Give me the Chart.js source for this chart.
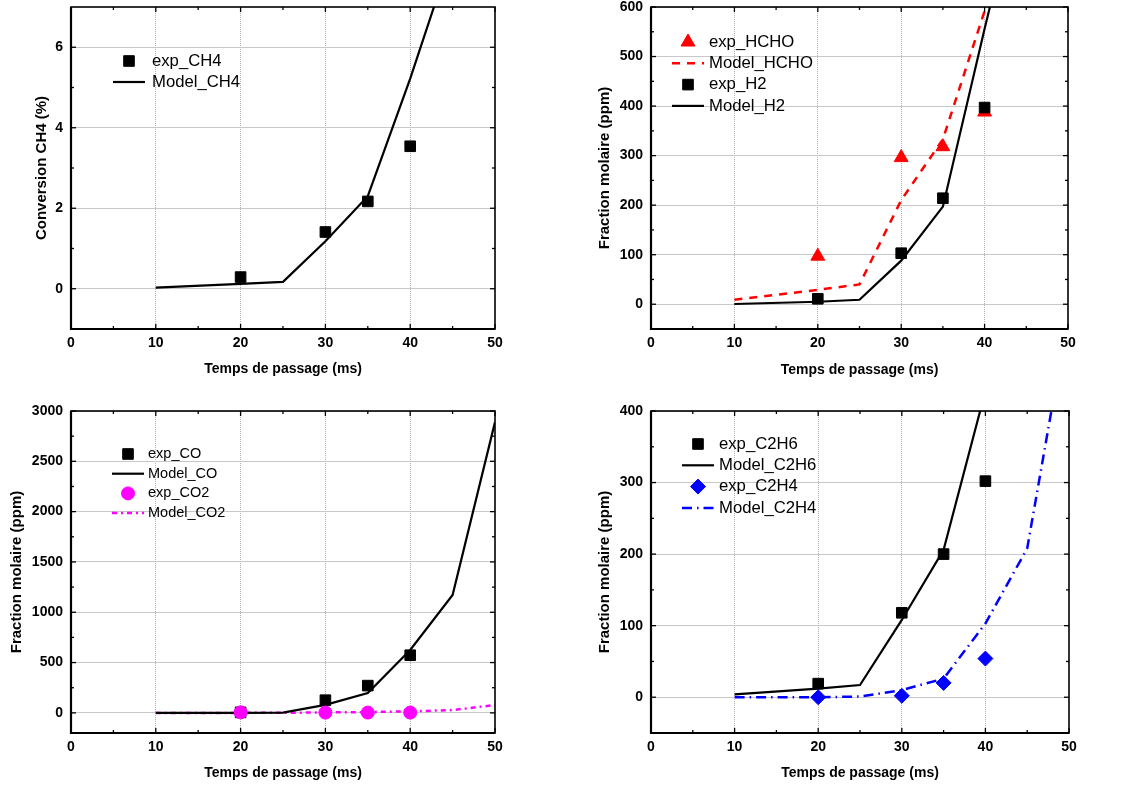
<!DOCTYPE html>
<html>
<head>
<meta charset="utf-8">
<script src="https://cdn.jsdelivr.net/npm/chart.js@4.4.0/dist/chart.umd.min.js"></script>
<style>
  html, body { margin: 0; padding: 0; background: #fff; overflow: hidden; }
  body { width: 1128px; height: 789px; position: relative; }
  canvas { position: absolute; }
</style>
</head>
<body>
<canvas id="c1" width="564" height="400" style="left:0;top:-10px"></canvas>
<canvas id="c2" width="564" height="400" style="left:564px;top:-10px"></canvas>
<canvas id="c3" width="564" height="399" style="left:0;top:390px"></canvas>
<canvas id="c4" width="564" height="399" style="left:564px;top:390px"></canvas>
<script>
// temps de passage (ms)
const tModel = [10, 20, 25, 30, 35, 40, 45];
const tModelLong = [10, 20, 25, 30, 35, 40, 45, 50];
const tExp = [20, 30, 35, 40];

// conversion CH4 (%)
const expCH4 = [0.29, 1.41, 2.17, 3.54];
const modelCH4 = [0.03, 0.12, 0.17, 1.18, 2.3, 5.22, 8.4];

// HCHO et H2 (ppm)
const expHCHO = [97, 296, 318, 388];
const modelHCHO = [9, 29, 40, 210, 333, 592, 950];
const expH2 = [11, 103, 214, 397];
const modelH2 = [0.5, 5, 9, 88, 197, 556, 900];

// CO et CO2 (ppm)
const expCO = [5, 126, 271, 573];
const modelCO = [0, 0, 3, 80, 198, 625, 1172, 2890];
const expCO2 = [5, 3, 3, 3];
const modelCO2 = [0, 0, 1, 4, 8, 15, 28, 78];

// C2H6 et C2H4 (ppm)
const expC2H6 = [19, 118, 200, 302];
const modelC2H6 = [4, 12, 17, 108, 206, 428, 900];
const expC2H4 = [0, 2, 20, 54];
const modelC2H4 = [0, 0, 1, 10, 26, 103, 208, 540];

// graduations
const xTicks = [0, 10, 20, 30, 40, 50];
const xMinor = [5, 15, 25, 35, 45];
const yTicksCH4 = [0, 2, 4, 6];
const yMinorCH4 = [1, 3, 5];
const yTicksHCHO = [0, 100, 200, 300, 400, 500, 600];
const yMinorHCHO = [50, 150, 250, 350, 450, 550];
const yTicksCO = [0, 500, 1000, 1500, 2000, 2500, 3000];
const yMinorCO = [250, 750, 1250, 1750, 2250, 2750];
const yTicksC2 = [0, 100, 200, 300, 400];
const yMinorC2 = [50, 150, 250, 350];

const FONT = "Arial, 'Liberation Sans', sans-serif";
const pts = (xs, ys) => xs.map((x, i) => ({ x: x, y: ys[i] }));

const expSet = (label, ys, color, style, r, order) => ({
    label, data: pts(tExp, ys), showLine: false, order: order,
    pointStyle: style, pointRadius: r, pointBackgroundColor: color,
    pointBorderColor: color, pointBorderWidth: 1
});
const modelSet = (label, xs, ys, color, dash, w) => ({
    label, data: pts(xs, ys), showLine: true, order: 5,
    borderColor: color, borderWidth: w, borderDash: dash, pointRadius: 0,
    tension: 0, fill: false
});

// cadre + graduations vers l'intérieur sur les 4 côtés
const framePlugin = {
    id: 'frame',
    afterDraw(chart, args, opts) {
        const { ctx, chartArea: a, scales: { x, y } } = chart;
        ctx.save();
        ctx.strokeStyle = '#000';
        ctx.lineWidth = 1.3;
        const seg = (x1, y1, x2, y2) => { ctx.beginPath(); ctx.moveTo(x1, y1); ctx.lineTo(x2, y2); ctx.stroke(); };
        const xm = (vals, len) => vals.forEach(v => {
            const p = x.getPixelForValue(v);
            seg(p, a.bottom, p, a.bottom - len);
            seg(p, a.top, p, a.top + len);
        });
        const ym = (vals, len) => vals.forEach(v => {
            const p = y.getPixelForValue(v);
            seg(a.left, p, a.left + len, p);
            seg(a.right, p, a.right - len, p);
        });
        xm(xTicks, 5); xm(opts.xMinor, 3);
        ym(opts.yTicks, 5); ym(opts.yMinor, 3);
        ctx.lineWidth = 1.6;
        ctx.strokeRect(a.left, a.top, a.right - a.left, a.bottom - a.top);
        ctx.lineWidth = 2.2;
        seg(a.left, a.top, a.left, a.bottom + 1);
        seg(a.left - 1, a.bottom, a.right, a.bottom);
        ctx.restore();
    }
};

// légende dans la zone de tracé
const legendPlugin = {
    id: 'panelLegend',
    afterDatasetsDraw(chart, args, opts) {
        const { ctx, chartArea: a } = chart;
        ctx.save();
        ctx.font = opts.size + 'px ' + FONT;
        ctx.textBaseline = 'middle';
        chart.data.datasets.forEach((ds, i) => {
            const cx = a.left + opts.x;
            const cy = a.top + opts.y + i * opts.step;
            if (ds.showLine) {
                ctx.save();
                ctx.strokeStyle = ds.borderColor;
                ctx.lineWidth = ds.borderWidth;
                ctx.setLineDash(ds.borderDash || []);
                ctx.beginPath(); ctx.moveTo(cx - 16, cy); ctx.lineTo(cx + 16, cy); ctx.stroke();
                ctx.restore();
            } else {
                ctx.fillStyle = ds.pointBackgroundColor;
                ctx.strokeStyle = ds.pointBorderColor;
                ctx.lineWidth = ds.pointBorderWidth;
                Chart.helpers.drawPoint(ctx, { pointStyle: ds.pointStyle, radius: ds.pointRadius, rotation: 0, borderWidth: ds.pointBorderWidth }, cx, cy);
            }
            ctx.fillStyle = '#000';
            ctx.fillText(ds.label, cx + opts.textDx, cy);
        });
        ctx.restore();
    }
};

function makePanel(id, cfg) {
    return new Chart(document.getElementById(id), {
        type: 'scatter',
        data: { datasets: cfg.datasets },
        options: {
            responsive: false,
            animation: false,
            events: [],
            layout: { padding: cfg.padding },
            plugins: {
                legend: { display: false },
                tooltip: { enabled: false },
                frame: { xMinor: xMinor, yTicks: cfg.yTicks, yMinor: cfg.yMinor },
                panelLegend: cfg.legend
            },
            scales: {
                x: {
                    type: 'linear', min: 0, max: 50,
                    afterBuildTicks: s => { s.ticks = xTicks.map(v => ({ value: v })); },
                    afterFit: s => { s.height = cfg.xHeight; },
                    ticks: { font: { family: FONT, size: 14, weight: 'bold' }, color: '#000', padding: 6, maxRotation: 0, callback: v => String(v) },
                    grid: { drawTicks: false, lineWidth: 1, color: c => (c.tick && (c.tick.value === 0 || c.tick.value === 50)) ? 'rgba(0,0,0,0)' : '#b0b0b0' },
                    border: { display: false, dash: [1, 1] },
                    title: { display: true, text: 'Temps de passage (ms)', color: '#000', font: { family: FONT, size: 14, weight: 'bold' }, padding: { top: 0, bottom: cfg.xTitlePad } }
                },
                y: {
                    type: 'linear', min: cfg.yMin, max: cfg.yMax,
                    afterBuildTicks: s => { s.ticks = cfg.yTicks.map(v => ({ value: v })); },
                    afterFit: s => { s.width = cfg.yWidth; },
                    ticks: { font: { family: FONT, size: 14, weight: 'bold' }, color: '#000', padding: 8, callback: v => String(v) },
                    grid: { drawTicks: false, lineWidth: 1, color: '#c8c8c8' },
                    border: { display: false },
                    title: { display: true, text: cfg.yTitle, color: '#000', font: { family: FONT, size: 15, weight: 'bold' }, padding: { top: cfg.yTitlePad, bottom: 0 } }
                }
            }
        },
        plugins: [framePlugin, legendPlugin]
    });
}

makePanel('c1', {
    padding: { left: 0, top: 17, right: 69, bottom: 0 },
    yWidth: 71, xHeight: 61, xTitlePad: 12.6, yTitlePad: 33,
    yMin: -1, yMax: 7, yTicks: yTicksCH4, yMinor: yMinorCH4,
    yTitle: 'Conversion CH4 (%)',
    legend: { x: 58, y: 54, step: 21, size: 16.7, textDx: 23 },
    datasets: [
        expSet('exp_CH4', expCH4, '#000', 'rect', 7.5, 1),
        modelSet('Model_CH4', tModel, modelCH4, '#000', [], 2.2)
    ]
});

makePanel('c2', {
    padding: { left: 0, top: 17, right: 60, bottom: 0 },
    yWidth: 87, xHeight: 61, xTitlePad: 11.6, yTitlePad: 32,
    yMin: -50, yMax: 600, yTicks: yTicksHCHO, yMinor: yMinorHCHO,
    yTitle: 'Fraction molaire (ppm)',
    legend: { x: 37, y: 35, step: 21.3, size: 16.7, textDx: 21 },
    datasets: [
        expSet('exp_HCHO', expHCHO, '#ff0000', 'triangle', 8, 1),
        modelSet('Model_HCHO', tModel, modelHCHO, '#ff0000', [8, 7], 2.5),
        expSet('exp_H2', expH2, '#000', 'rect', 7.5, 0),
        modelSet('Model_H2', tModel, modelH2, '#000', [], 2.2)
    ]
});

makePanel('c3', {
    padding: { left: 0, top: 21, right: 69, bottom: 0 },
    yWidth: 71, xHeight: 56, xTitlePad: 7.6, yTitlePad: 8,
    yMin: -200, yMax: 3000, yTicks: yTicksCO, yMinor: yMinorCO,
    yTitle: 'Fraction molaire (ppm)',
    legend: { x: 57, y: 43, step: 19.7, size: 14.5, textDx: 20 },
    datasets: [
        expSet('exp_CO', expCO, '#000', 'rect', 7.5, 1),
        modelSet('Model_CO', tModelLong, modelCO, '#000', [], 2.2),
        expSet('exp_CO2', expCO2, '#ff00ff', 'circle', 6.5, 0),
        modelSet('Model_CO2', tModelLong, modelCO2, '#ff00ff', [5, 4, 2, 4], 2.5)
    ]
});

makePanel('c4', {
    padding: { left: 0, top: 21, right: 59, bottom: 0 },
    yWidth: 87, xHeight: 56, xTitlePad: 7.6, yTitlePad: 32,
    yMin: -50, yMax: 400, yTicks: yTicksC2, yMinor: yMinorC2,
    yTitle: 'Fraction molaire (ppm)',
    legend: { x: 47, y: 33, step: 21.3, size: 16.7, textDx: 21 },
    datasets: [
        expSet('exp_C2H6', expC2H6, '#000', 'rect', 7.5, 1),
        modelSet('Model_C2H6', tModel, modelC2H6, '#000', [], 2.2),
        expSet('exp_C2H4', expC2H4, '#0000ff', 'rectRot', 7.5, 0),
        modelSet('Model_C2H4', tModelLong, modelC2H4, '#0000ff', [10, 5, 1.5, 5], 2.5)
    ]
});
</script>
</body>
</html>
